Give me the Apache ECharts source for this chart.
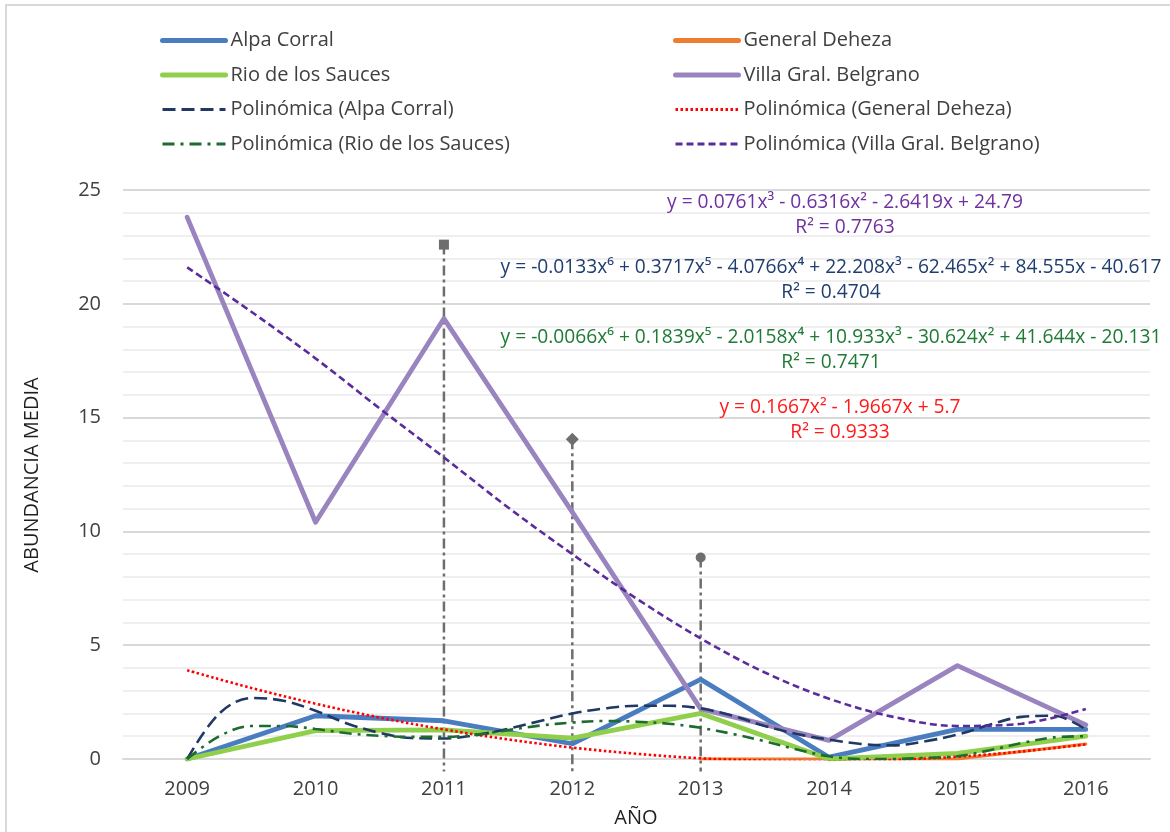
<!DOCTYPE html>
<html>
<head>
<meta charset="utf-8">
<script src="https://cdn.jsdelivr.net/npm/echarts@6/dist/echarts.min.js"></script>
<style>html,body{margin:0;padding:0;background:#fff;}#c{width:1170px;height:832px;}</style>
</head>
<body>
<div id="c"></div>
<script>
// ---- data ----
const years = ['2009','2010','2011','2012','2013','2014','2015','2016'];
const alpaCorral     = [0, 1.9, 1.68, 0.67, 3.5, 0.08, 1.3, 1.3];
const generalDeheza  = [null, null, null, null, 0, 0, 0, 0.66];
const rioSauces      = [0, 1.25, 1.28, 0.92, 2.0, 0, 0.25, 1.0];
const villaBelgrano  = [23.8, 10.4, 19.35, 10.85, 2.2, 0.82, 4.1, 1.5];

// trend curves at quarter / half years
const trendQX = [2009,2009.25,2009.5,2009.75,2010,2010.25,2010.5,2010.75,2011,2011.25,2011.5,2011.75,2012,2012.25,2012.5,2012.75,2013,2013.25,2013.5,2013.75,2014,2014.25,2014.5,2014.75,2015,2015.25,2015.5,2015.75,2016];
const trendAlpa = [0,2.0,2.68,2.56,2.12,1.55,1.15,0.92,0.9,1.05,1.33,1.67,2.0,2.22,2.34,2.34,2.22,1.9,1.45,1.1,0.85,0.66,0.6,0.78,1.07,1.5,1.85,1.9,1.3];
const trendRio  = [0,1.0,1.45,1.45,1.32,1.13,1.02,0.97,0.97,1.07,1.27,1.47,1.6,1.67,1.64,1.55,1.37,1.1,0.78,0.42,0.12,0,0,0.05,0.12,0.38,0.7,0.95,1.0];
const trendHX = [2009,2009.5,2010,2010.5,2011,2011.5,2012,2012.5,2013,2013.5,2014,2014.5,2015,2015.5,2016];
const trendDeheza = [3.9,3.12,2.43,1.82,1.3,0.86,0.5,0.23,0.03,-0.07,-0.1,-0.04,0.1,0.33,0.64];
const trendVilla  = [21.6,19.65,17.6,15.4,13.25,11.05,9.0,7.05,5.3,3.8,2.65,1.85,1.45,1.55,2.2];

// vertical drop lines with markers
const dropYears = [2011, 2012, 2013];
const dropTops  = [22.6, 14.05, 8.85];
const dropBottom = -0.55;
const dropSymbols = ['rect', 'diamond', 'circle'];

const yTicks = [0, 5, 10, 15, 20, 25];

const equations = [
  {eq: 'y = 0.0761x³ - 0.6316x² - 2.6419x + 24.79', r2: 'R² = 0.7763'},
  {eq: 'y = -0.0133x⁶ + 0.3717x⁵ - 4.0766x⁴ + 22.208x³ - 62.465x² + 84.555x - 40.617', r2: 'R² = 0.4704'},
  {eq: 'y = -0.0066x⁶ + 0.1839x⁵ - 2.0158x⁴ + 10.933x³ - 30.624x² + 41.644x - 20.131', r2: 'R² = 0.7471'},
  {eq: 'y = 0.1667x² - 1.9667x + 5.7', r2: 'R² = 0.9333'}
];

// ---- styles ----
const FONT = 'Open Sans';
const eqStyle = [
  {color: '#7030a0', cx: 845, y: 203},
  {color: '#203d70', cx: 831, y: 268},
  {color: '#1e7a34', cx: 831, y: 338},
  {color: '#ff1a1a', cx: 840, y: 408}
];
const DATA_W = 4.8, TREND_W = 2.6;

function pairs(xs, ys) { return xs.map((x, i) => [x, ys[i]]); }

const series = [];
dropYears.forEach((yr, i) => {
  series.push({
    type: 'line', xAxisIndex: 1, clip: false, silent: true, z: 1,
    data: [
      {value: [yr, dropTops[i]], symbol: dropSymbols[i], symbolSize: dropSymbols[i] === 'diamond' ? 13 : 10},
      {value: [yr, dropBottom], symbol: 'none'}
    ],
    lineStyle: {color: '#6e6e6e', width: 2.5, type: [10, 4, 3, 4]},
    itemStyle: {color: '#6e6e6e'}
  });
});

function dataLine(name, data, color, width) {
  return {name, type: 'line', data, symbol: 'none', showSymbol: false, z: 3,
    lineStyle: {color, width, cap: 'round', join: 'round'}, itemStyle: {color}};
}
series.push(dataLine('Alpa Corral', alpaCorral, '#4a7cc0', DATA_W));
series.push(dataLine('General Deheza', generalDeheza, '#ed7d31', 3));
series.push(dataLine('Rio de los Sauces', rioSauces, '#8fcf4c', DATA_W));
series.push(dataLine('Villa Gral. Belgrano', villaBelgrano, '#9a84bf', DATA_W));

function trendLine(name, xs, ys, color, dash) {
  return {name, type: 'line', xAxisIndex: 1, data: pairs(xs, ys), symbol: 'none', showSymbol: false,
    smooth: 0.35, z: 4, lineStyle: {color, width: TREND_W, type: dash}, itemStyle: {color}};
}
series.push(trendLine('Polinómica (Alpa Corral)', trendQX, trendAlpa, '#1f3864', [13, 6]));
series.push(trendLine('Polinómica (General Deheza)', trendHX, trendDeheza, '#ff0000', [2.5, 2.5]));
series.push(trendLine('Polinómica (Rio de los Sauces)', trendQX, trendRio, '#1d6b2f', [12, 6, 3, 6]));
series.push(trendLine('Polinómica (Villa Gral. Belgrano)', trendHX, trendVilla, '#5b2a9c', [7, 4]));

const graphics = [
  {type: 'rect', shape: {x: 6, y: 5, width: 1400, height: 1000}, style: {fill: 'none', stroke: '#d9d9d9', lineWidth: 2}, silent: true},
  {type: 'text', x: 32, y: 475, rotation: Math.PI / 2,
    style: {text: 'ABUNDANCIA MEDIA', fill: '#1f1f1f', fontFamily: FONT, fontSize: 20, textAlign: 'center', textVerticalAlign: 'middle'}},
  {type: 'text', x: 636, y: 818,
    style: {text: 'AÑO', fill: '#1f1f1f', fontFamily: FONT, fontSize: 20, textAlign: 'center', textVerticalAlign: 'middle'}}
];
equations.forEach((e, i) => {
  const s = eqStyle[i];
  graphics.push({type: 'text', x: s.cx, y: s.y, z: 10,
    style: {text: e.eq, fill: s.color, fontFamily: FONT, fontSize: 19.2, textAlign: 'center', textVerticalAlign: 'middle'}});
  graphics.push({type: 'text', x: s.cx, y: s.y + 25, z: 10,
    style: {text: e.r2, fill: s.color, fontFamily: FONT, fontSize: 19.2, textAlign: 'center', textVerticalAlign: 'middle'}});
});

function legendItem(name, w) { return {name, lineStyle: {width: w}}; }

const legendBase = {
  orient: 'vertical', top: 25.5, itemWidth: 63, itemHeight: 14, itemGap: 14.5,
  itemStyle: {opacity: 0},
  textStyle: {fontFamily: FONT, fontSize: 20, color: '#404040'}, selectedMode: false
};

const chart = echarts.init(document.getElementById('c'), null, {renderer: 'canvas'});
chart.setOption({
  animation: false,
  backgroundColor: '#ffffff',
  textStyle: {fontFamily: FONT},
  grid: {left: 123, right: 20, top: 190, bottom: 73, containLabel: false},
  legend: [
    Object.assign({}, legendBase, {left: 155, data: [
      legendItem('Alpa Corral', 5), legendItem('Rio de los Sauces', 5),
      legendItem('Polinómica (Alpa Corral)', 3), legendItem('Polinómica (Rio de los Sauces)', 3)]}),
    Object.assign({}, legendBase, {left: 668, data: [
      legendItem('General Deheza', 5), legendItem('Villa Gral. Belgrano', 5),
      legendItem('Polinómica (General Deheza)', 3), legendItem('Polinómica (Villa Gral. Belgrano)', 3)]})
  ],
  xAxis: [
    {type: 'category', data: years, boundaryGap: true,
      axisLine: {show: true, lineStyle: {color: '#d9d9d9', width: 2}},
      axisTick: {show: false},
      axisLabel: {color: '#404040', fontFamily: FONT, fontSize: 20, margin: 20},
      splitLine: {show: false}},
    {type: 'value', min: 2008.5, max: 2016.5, show: false, gridIndex: 0}
  ],
  yAxis: {
    type: 'value', min: yTicks[0], max: yTicks[yTicks.length - 1], interval: 5,
    axisLine: {show: false}, axisTick: {show: false},
    axisLabel: {color: '#404040', fontFamily: FONT, fontSize: 20, margin: 22},
    splitLine: {show: true, lineStyle: {color: '#d9d9d9', width: 2}},
    minorTick: {show: false, splitNumber: 5},
    minorSplitLine: {show: true, lineStyle: {color: '#efefef', width: 2}}
  },
  graphic: graphics,
  series
});
</script>
</body>
</html>
